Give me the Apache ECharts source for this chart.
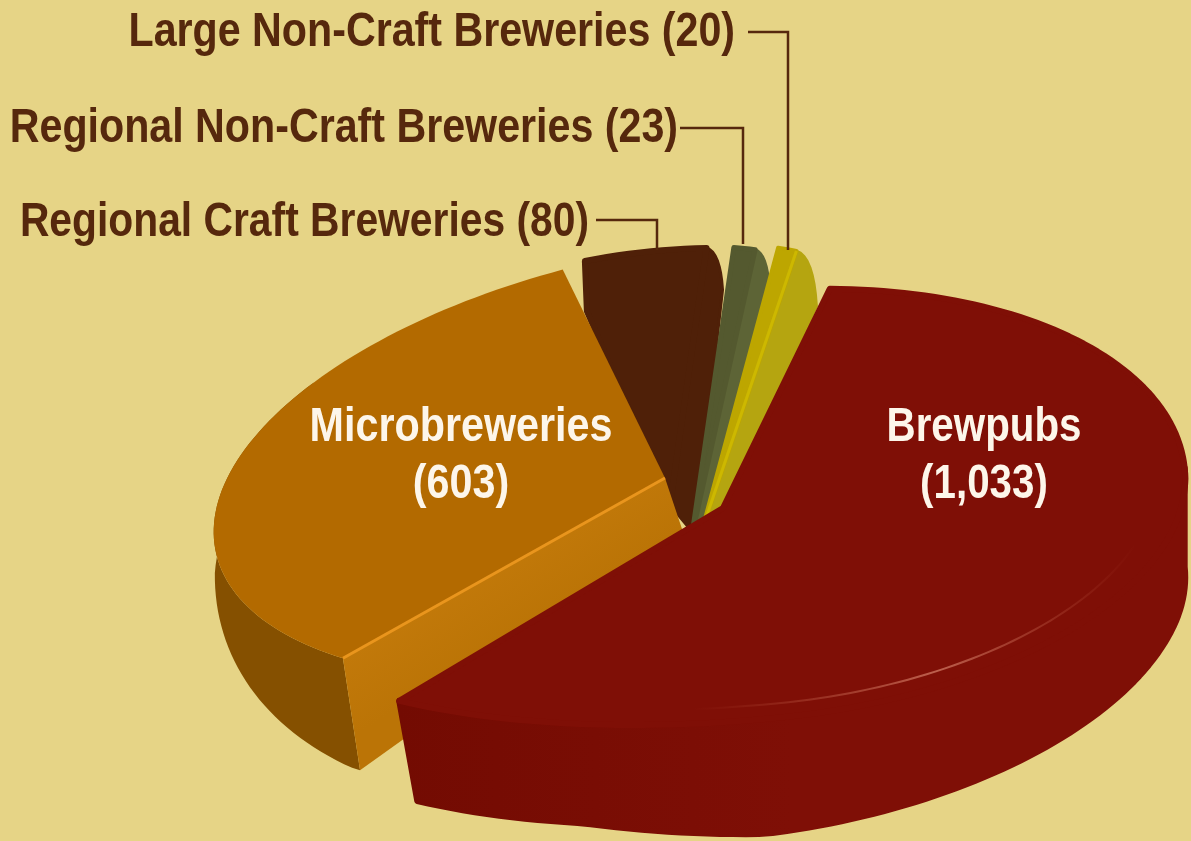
<!DOCTYPE html>
<html>
<head>
<meta charset="utf-8">
<title>Breweries by type</title>
<script src="https://cdn.jsdelivr.net/npm/echarts@6/dist/echarts.min.js"></script>
<style>
    html, body { margin: 0; padding: 0; background: #e6d486; }
    #chart { width: 1191px; height: 841px; }
</style>
</head>
<body>
<div id="chart"></div>
<script>
// values, clockwise starting at Brewpubs
const categories = ['Brewpubs', 'Microbreweries', 'Regional Craft Breweries', 'Regional Non-Craft Breweries', 'Large Non-Craft Breweries'];
const values = [1033, 603, 80, 23, 20];
const valueLabels = ['1,033', '603', '80', '23', '20'];

const startAngle = -78;
const rad = Math.PI / 180;
const total = values.reduce((a, b) => a + b, 0);

// how each slice sits in the perspective view (the slices are pulled apart and warped in the picture)
const sliceViews = [
    { z: 5, turn: 0, apex: [723, 508], cx: 765, cy: 512, tilt: 6, a: 422, aL: 558, bT: 220, b: 206, top: '#7f0f06', round: 6, wallLeft: '#730b02', wallRight: '#7f0f06', wallFrom: 0, depthMax: 115, depthK: 100, depthY: 0, leftDepth: 0.87, rightDepth: 0.86, dxK: 0.3, dxFrom: 40, wallRound: 6 },
    { z: 4, turn: 7, apex: [665, 478], cx: 652, cy: 459, tilt: 12, a: 430, aL: 446, bT: 205, b: 205, top: '#b36a00', wallLeft: '#855000', wallRight: '#855000', wallFrom: -180, depthMax: 112, depthK: 0.41, depthY: 382, leftDepth: 1, rightDepth: 1, dxK: 0.3, dxFrom: 55, wallRound: 0, apexDrop: [20, 60], cutWall: 'start' },
    { z: 1, turn: 8, apex: [670, 505], cx: 660, cy: 517, tilt: 8, a: 430, aL: 430, bT: 265, b: 265, top: '#4f2008', round: 6, startFoot: [2, 50], endWall: [16, 42], apexWall: [25, 30], endWallColor: '#4f2008' },
    { z: 2, turn: 8, apex: [692, 535], cx: 720, cy: 512, tilt: 8, a: 260, aL: 260, bT: 265, b: 265, top: '#54592f', round: 5, endWall: [14, 38], apexWall: [12, 0], endWallColor: '#5d6436' },
    { z: 3, turn: 8, apex: [702, 530], cx: 743, cy: 510, tilt: 8, a: 260, aL: 260, bT: 265, b: 265, top: '#bda600', round: 4, endWall: [20, 55], apexWall: [24, -22], endWallColor: '#b5a510', edgeColor: '#cdb800' }
];

const labelFont = '"Liberation Sans", sans-serif';
const labelColor = '#56280d';
const outerLabels = [
    { index: 4, x: 735, y: 33, size: 48, stretch: 0.858, leader: [[748, 32], [788, 32], [788, 250]] },
    { index: 3, x: 678, y: 129, size: 48, stretch: 0.858, leader: [[680, 128], [743, 128], [743, 244]] },
    { index: 2, x: 589, y: 223, size: 48, stretch: 0.85, leader: [[596, 220], [657, 220], [657, 250]] }
];
const innerLabels = [
    { index: 0, x: 984, y: 428, size: 48, stretch: 0.84 },
    { index: 1, x: 461, y: 428, size: 48, stretch: 0.86 }
];

function rimPoint(v, deg, scale) {
    const c = Math.cos(deg * rad), s = Math.sin(deg * rad), k = scale || 1;
    const e1 = (c < 0 ? v.aL : v.a) * c * k;
    const e2 = (s < 0 ? v.bT : v.b) * s * k;
    const t = v.tilt * rad;
    return [v.cx + e1 * Math.cos(t) + e2 * Math.sin(t), v.cy - e1 * Math.sin(t) + e2 * Math.cos(t)];
}

// foot of the side wall under a rim point; it leans right and gets shorter on the left part of the pie,
// and gets shorter again towards the right end
function dropped(v, p) {
    const lean = Math.max(0, Math.min(1, (v.cx - p[0]) / 200));
    const fade = Math.max(0, Math.min(1, (p[0] - v.cx) / 400));
    const d = Math.max(0, Math.min(v.depthMax, v.depthK * (p[1] - v.depthY)))
        * (1 - (1 - v.leftDepth) * lean) * (1 - (1 - v.rightDepth) * fade);
    return [p[0] + Math.max(0, v.dxK * (d - v.dxFrom)) * lean, p[1] + d];
}

function arc(v, from, to, scale) {
    const pts = [], n = Math.max(2, Math.ceil((to - from) / 1.5));
    for (let i = 0; i <= n; i++) {
        pts.push(rimPoint(v, from + (to - from) * i / n, scale));
    }
    return pts;
}

// rounded shoulder of the thin slices, from the rim corner down to the foot of the wall
function shoulder(p, w) {
    const pts = [];
    for (let i = 0; i <= 8; i++) {
        const t = i / 8;
        pts.push([p[0] + w[0] * (2 * t * (1 - t) * 0.85 + t * t), p[1] + w[1] * t * t * 0.8 + w[1] * 0.2 * t]);
    }
    return pts;
}

function poly(points, fill, z2, round) {
    return {
        type: 'polygon',
        z2: z2,
        silent: true,
        shape: { points: points },
        style: { fill: fill, stroke: round ? fill : null, lineWidth: round || 0, lineJoin: 'round' }
    };
}

function renderSlice(params, api) {
    const i = params.dataIndex;
    const v = sliceViews[i];
    let done = 0;
    for (let k = 0; k < i; k++) done += values[k];
    const from = startAngle + v.turn + done / total * 360;
    const to = from + api.value(0) / total * 360;
    const base = v.z * 10;
    const rim = arc(v, from, to);
    const children = [];

    if (v.wallLeft) {
        const wallRim = arc(v, Math.max(from, v.wallFrom), to);
        const lower = wallRim.map(p => dropped(v, p)).reverse();
        children.push(poly(wallRim.concat(lower), new echarts.graphic.LinearGradient(1, 0, 0, 0, [
            { offset: 0, color: v.wallRight },
            { offset: 0.5, color: v.wallRight },
            { offset: 1, color: v.wallLeft }
        ]), base, v.wallRound));
    }
    if (v.cutWall) {
        const p = rim[0];
        const pd = dropped(v, p);
        const ad = [v.apex[0] + v.apexDrop[0], v.apex[1] + v.apexDrop[1]];
        children.push(poly([p, v.apex, ad, pd], new echarts.graphic.LinearGradient(0, 0, 0.35, 0.65, [
            { offset: 0, color: '#d08312' },
            { offset: 1, color: '#bb7406' }
        ]), base + 1));
        children.push({
            type: 'polyline', z2: base + 3, silent: true,
            shape: { points: [p, v.apex] },
            style: { stroke: '#e9951d', lineWidth: 3, fill: null }
        });
    }
    if (v.endWall) {
        const p = rim[rim.length - 1];
        children.push(poly(shoulder(p, v.endWall).concat([
            [v.apex[0] + v.apexWall[0], v.apex[1] + v.apexWall[1]],
            v.apex
        ]), v.endWallColor, base + 1, 3));
    }
    let face = [v.apex];
    if (v.startFoot) {
        face.push([rim[0][0] + v.startFoot[0], rim[0][1] + v.startFoot[1]]);
    }
    children.push(poly(face.concat(rim), v.top, base + 2, v.round));
    if (v.edgeColor) {
        children.push({
            type: 'polyline', z2: base + 3, silent: true,
            shape: { points: [rim[rim.length - 1], v.apex] },
            style: { stroke: v.edgeColor, lineWidth: 3, fill: null }
        });
    }

    // faint shine along the front of the big slice
    if (i === 0) {
        children.push({
            type: 'polyline', z2: base + 3, silent: true,
            shape: { points: arc(v, 22, 100, 0.93) },
            style: {
                fill: null, lineWidth: 2,
                stroke: new echarts.graphic.LinearGradient(1, 0, 0, 0, [
                    { offset: 0, color: 'rgba(175,70,50,0)' },
                    { offset: 0.45, color: 'rgba(200,110,90,0.85)' },
                    { offset: 1, color: 'rgba(175,70,50,0)' }
                ])
            }
        });
    }
    return { type: 'group', children: children };
}

function renderLabels() {
    const children = [];
    outerLabels.forEach(l => {
        children.push({
            type: 'text', z2: 100, silent: true, x: l.x, y: l.y, scaleX: l.stretch,
            style: {
                text: categories[l.index] + ' (' + valueLabels[l.index] + ')',
                fill: labelColor, font: 'bold ' + l.size + 'px ' + labelFont,
                textAlign: 'right', textVerticalAlign: 'middle'
            }
        });
        children.push({
            type: 'polyline', z2: 99, silent: true,
            shape: { points: l.leader },
            style: { stroke: labelColor, lineWidth: 2.5, fill: null }
        });
    });
    innerLabels.forEach(l => {
        [categories[l.index], '(' + valueLabels[l.index] + ')'].forEach((line, n) => {
            children.push({
                type: 'text', z2: 100, silent: true, x: l.x, y: l.y + n * 57, scaleX: l.stretch,
                style: {
                    text: line, fill: '#fdf6ea', font: 'bold ' + l.size + 'px ' + labelFont,
                    textAlign: 'center', textVerticalAlign: 'middle'
                }
            });
        });
    });
    return { type: 'group', children: children };
}

const myChart = echarts.init(document.getElementById('chart'));
myChart.setOption({
    backgroundColor: '#e6d486',
    animation: false,
    series: [
        {
            type: 'custom',
            coordinateSystem: 'none',
            renderItem: renderSlice,
            data: values.map(v => [v])
        },
        {
            type: 'custom',
            coordinateSystem: 'none',
            renderItem: renderLabels,
            data: [[0]]
        }
    ]
});
</script>
</body>
</html>
